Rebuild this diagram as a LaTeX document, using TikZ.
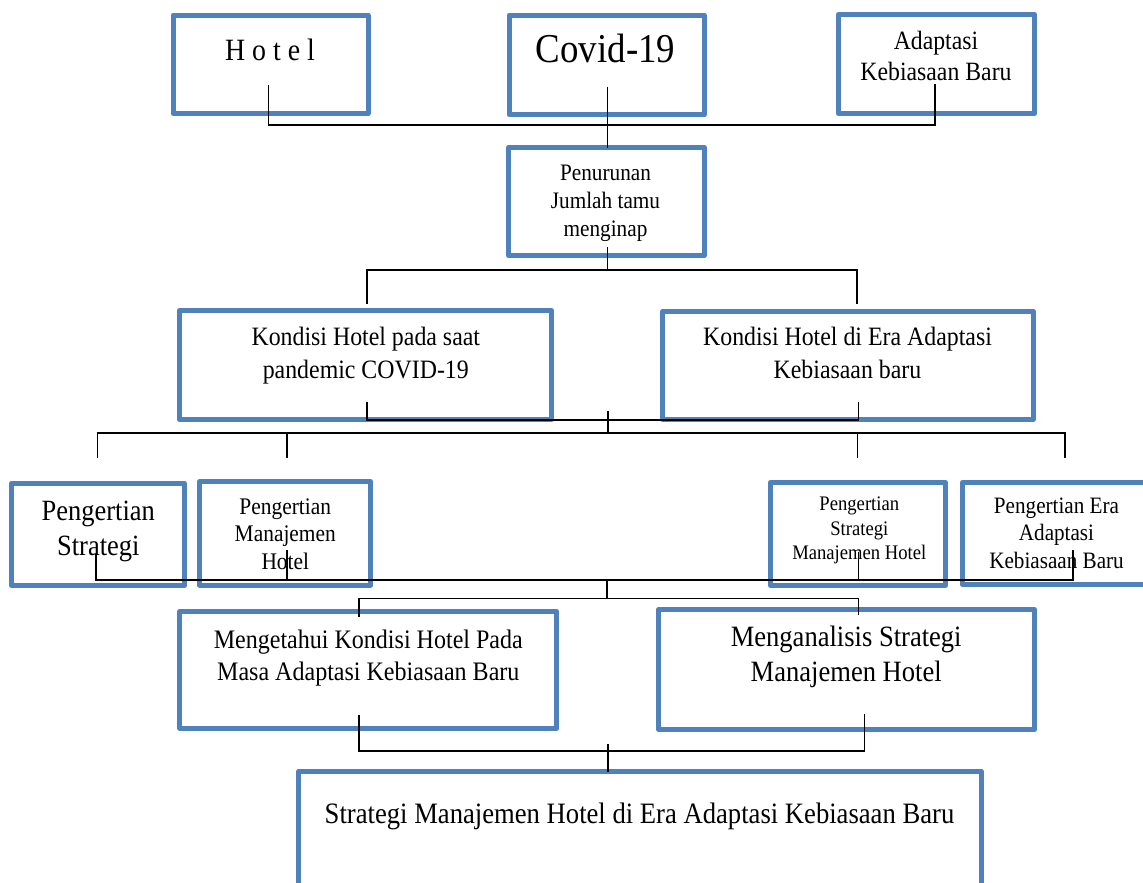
\documentclass[tikz,border=0pt]{standalone}
\usepackage{fontspec}
\setmainfont{Liberation Serif}[FakeStretch=0.9]
\definecolor{wordblue}{HTML}{4F81BD}
\newcommand\fsz[2]{\fontsize{#1}{#2}\selectfont}
\begin{document}
\begin{tikzpicture}[x=1pt,y=-1pt,
  box/.style={draw=wordblue, line width=5pt, rectangle, inner sep=0pt, outer sep=0pt, line join=round},
  txt/.style={inner sep=0pt, outer sep=0pt, anchor=base, align=flush center, text width=900pt},
  conn/.style={draw=black, line width=1.6pt}]
\useasboundingbox[fill=white] (0,0) rectangle (1143,883);

% ---------- boxes ----------
\node[box, minimum width=195pt, minimum height=98.3pt] (hotel) at (270.5,64.35) {};
\node[box, minimum width=195pt, minimum height=99.6pt] (covid) at (606.7,65) {};
\node[box, minimum width=196pt, minimum height=99pt] (akb) at (936.5,64) {};
\node[box, minimum width=195.7pt, minimum height=108pt] (turun) at (606.3,201.5) {};
\node[box, minimum width=372pt, minimum height=109pt] (k1) at (365.5,365) {};
\node[box, minimum width=371pt, minimum height=107.7pt] (k2) at (848,365.3) {};
\node[box, minimum width=172.7pt, minimum height=102.3pt] (ps) at (97.85,534.35) {};
\node[box, minimum width=171pt, minimum height=103.5pt] (pmh) at (285,533.25) {};
\node[box, minimum width=175pt, minimum height=103pt] (psmh) at (858,534) {};
\node[box, minimum width=188pt, minimum height=102.3pt] (pera) at (1056.5,533.65) {};
\node[box, minimum width=377pt, minimum height=116.7pt] (mk) at (368.3,669.85) {};
\node[box, minimum width=376pt, minimum height=119.4pt] (ma) at (846.5,669.5) {};
\node[box, minimum width=683pt, minimum height=125.7pt] (smh) at (640,834.65) {};

% ---------- texts ----------
\node[txt, font=\fsz{31}{37}] (hotelT) at (270,60) {H o t e l};
\node[txt, font=\fsz{41}{49}] (covidT) at (605.5,63) {Covid-19};
\node[txt, font=\fsz{26.4}{31}] (akbT) at (936,50) {Adaptasi\\Kebiasaan Baru};
\node[txt, font=\fsz{23.6}{27.7}] (turunT) at (605.5,180.7) {Penurunan\\Jumlah tamu\\menginap};
\node[txt, font=\fsz{26.5}{33.2}] (k1T) at (365.8,345) {Kondisi Hotel pada saat\\pandemic COVID-19};
\node[txt, font=\fsz{26.5}{33.2}] (k2T) at (847.5,345) {Kondisi Hotel di Era Adaptasi\\Kebiasaan baru};
\node[txt, font=\fsz{29.4}{35}] (psT) at (98.3,520) {Pengertian\\Strategi};
\node[txt, font=\fsz{23.8}{27.7}] (pmhT) at (285.3,514) {Pengertian\\Manajemen\\Hotel};
\node[txt, font=\fsz{20.7}{24.3}] (psmhT) at (859.3,510.7) {Pengertian\\Strategi\\Manajemen Hotel};
\node[txt, font=\fsz{23.5}{27.4}] (peraT) at (1056.5,513.3) {Pengertian Era\\Adaptasi\\Kebiasaan Baru};
\node[txt, font=\fsz{26.7}{31.7}] (mkT) at (368.3,648.3) {Mengetahui Kondisi Hotel Pada\\Masa Adaptasi Kebiasaan Baru};
\node[txt, font=\fsz{29.5}{35}] (maT) at (846.2,646.7) {Menganalisis Strategi\\Manajemen Hotel};
\node[txt, font=\fsz{29.6}{35}] (smhT) at (639.5,823) {Strategi Manajemen Hotel di Era Adaptasi Kebiasaan Baru};

% ---------- connector points ----------
\coordinate (a1) at (268.3,85);
\coordinate (a2) at (268.3,125);
\coordinate (a3) at (935,125);
\coordinate (a4) at (935,84);
\coordinate (a5) at (607.3,87);

\coordinate (b1) at (607.3,247);
\coordinate (b2) at (607.3,270);
\coordinate (b3) at (366.7,270);
\coordinate (b4) at (856.7,270);
\coordinate (b5) at (366.7,304);
\coordinate (b6) at (856.7,304);

\coordinate (c1) at (366.7,401.7);
\coordinate (c2) at (366.7,420);
\coordinate (c3) at (858.3,420);
\coordinate (c4) at (858.3,401.7);
\coordinate (c5) at (607.7,410.7);
\coordinate (c6) at (607.7,433);
\coordinate (c7) at (97.3,433);
\coordinate (c8) at (1064.8,433);
\coordinate (c9) at (97.3,458);
\coordinate (c10) at (1064.8,458);
\coordinate (c11) at (286.7,433);
\coordinate (c12) at (286.7,458);
\coordinate (c13) at (857.4,433);
\coordinate (c14) at (857.4,458);

\coordinate (d1) at (96,554);
\coordinate (d2) at (96,580);
\coordinate (d3) at (1073,580);
\coordinate (d4) at (1073,550);
\coordinate (d5) at (286.7,550);
\coordinate (d6) at (286.7,580);
\coordinate (d7) at (858.3,551.7);
\coordinate (d8) at (858.3,580);
\coordinate (d9) at (606.7,580);
\coordinate (d10) at (606.7,598.3);
\coordinate (d11) at (359,598.3);
\coordinate (d12) at (858.3,598.3);
\coordinate (d13) at (359,616.7);
\coordinate (d14) at (858.3,615);

\coordinate (e1) at (359,715);
\coordinate (e2) at (359,751);
\coordinate (e3) at (864.3,751);
\coordinate (e4) at (864.3,714);
\coordinate (e5) at (608,744);

% ---------- connectors ----------
\draw[conn] (a1) -- (a2) -- (a3) -- (a4);
\draw[conn] (a5) -- (a5 |- turun.north);
\draw[conn] (b1) -- (b2);
\draw[conn] (b5) -- (b3) -- (b4) -- (b6);
\draw[conn] (c1) -- (c2) -- (c3) -- (c4);
\draw[conn] (c5) -- (c6);
\draw[conn] (c9) -- (c7) -- (c8) -- (c10);
\draw[conn] (c11) -- (c12);
\draw[conn] (c13) -- (c14);
\draw[conn] (d1) -- (d2) -- (d3) -- (d4);
\draw[conn] (d5) -- (d6);
\draw[conn] (d7) -- (d8);
\draw[conn] (d9) -- (d10);
\draw[conn] (d13) -- (d11) -- (d12) -- (d14);
\draw[conn] (e1) -- (e2) -- (e3) -- (e4);
\draw[conn] (e5) -- (e5 |- smh.north);
\end{tikzpicture}
\end{document}
